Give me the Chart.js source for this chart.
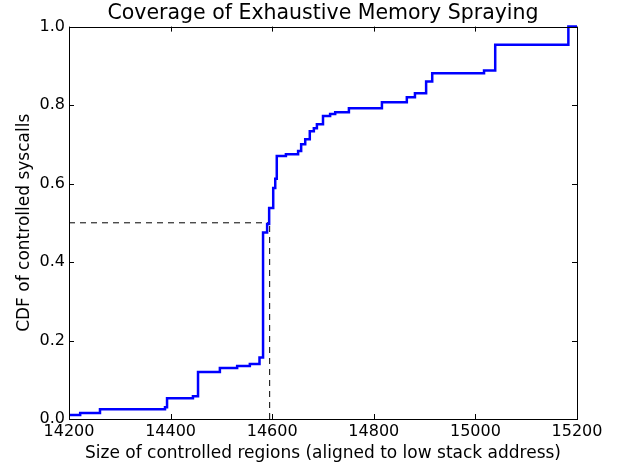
<!DOCTYPE html>
<html>
<head>
<meta charset="utf-8">
<script src="https://cdn.jsdelivr.net/npm/chart.js@4"></script>
<style>
  html, body { margin: 0; padding: 0; background: #fff; }
  #wrap { width: 618px; height: 466px; }
</style>
</head>
<body>
<div id="wrap"><canvas id="cdfChart" width="618" height="466"></canvas></div>
<script>
// Region sizes where the CDF steps up, and the CDF value after each step
const regionSizes = [14200, 14222, 14261, 14389, 14393, 14444, 14454, 14497, 14531, 14556,
  14575, 14582, 14590, 14594, 14602, 14606, 14609, 14627, 14651, 14657,
  14665, 14674, 14682, 14688, 14700, 14714, 14724, 14751, 14816, 14865,
  14881, 14903, 14915, 15017, 15039, 15183, 15200];
const cdfValues = [0.010, 0.015, 0.025, 0.030, 0.053, 0.058, 0.120, 0.130, 0.135, 0.140,
  0.157, 0.475, 0.497, 0.538, 0.589, 0.612, 0.670, 0.675, 0.683, 0.700,
  0.713, 0.733, 0.741, 0.751, 0.772, 0.777, 0.782, 0.792, 0.807, 0.820,
  0.830, 0.860, 0.881, 0.888, 0.954, 1.000, 1.000];

// median marker (dashed guide lines)
const medianSize = 14595;
const medianCdf = 0.5;

const xTicks = [14200, 14400, 14600, 14800, 15000, 15200];
const yTicks = [0.0, 0.2, 0.4, 0.6, 0.8, 1.0];

const FONT = 'DejaVu Sans';

// frame + inward ticks on all four sides, matplotlib style
const frameTicks = {
  id: 'frameTicks',
  afterDraw(chart) {
    const { ctx, chartArea: a, scales } = chart;
    const len = 5;
    ctx.save();
    ctx.strokeStyle = '#000';
    ctx.lineWidth = 1;
    ctx.beginPath();
    xTicks.forEach(v => {
      const px = Math.round(scales.x.getPixelForValue(v)) + 0.5;
      ctx.moveTo(px, a.bottom); ctx.lineTo(px, a.bottom - len);
      ctx.moveTo(px, a.top); ctx.lineTo(px, a.top + len);
    });
    yTicks.forEach(v => {
      const py = Math.round(scales.y.getPixelForValue(v)) + 0.5;
      ctx.moveTo(a.left, py); ctx.lineTo(a.left + len, py);
      ctx.moveTo(a.right, py); ctx.lineTo(a.right - len, py);
    });
    ctx.stroke();
    ctx.strokeRect(Math.round(a.left) + 0.5, Math.round(a.top) + 0.5,
      Math.round(a.right - a.left), Math.round(a.bottom - a.top));
    ctx.restore();
  }
};

new Chart(document.getElementById('cdfChart'), {
  type: 'line',
  data: {
    datasets: [
      {
        data: regionSizes.map((x, i) => ({ x: x, y: cdfValues[i] })),
        borderColor: '#0000ff',
        borderWidth: 2.5,
        pointRadius: 0,
        stepped: 'before',
        fill: false
      },
      {
        data: [{ x: 14200, y: medianCdf }, { x: medianSize, y: medianCdf }],
        borderColor: '#000',
        borderWidth: 1,
        borderDash: [6, 5],
        pointRadius: 0
      },
      {
        data: [{ x: medianSize, y: 0 }, { x: medianSize, y: medianCdf }],
        borderColor: '#000',
        borderWidth: 1,
        borderDash: [6, 5],
        pointRadius: 0
      }
    ]
  },
  options: {
    responsive: false,
    animation: false,
    clip: false,
    layout: { padding: { left: 0, right: 41, top: 0, bottom: 0 } },
    plugins: {
      legend: { display: false },
      tooltip: { enabled: false },
      title: {
        display: true,
        fullSize: false,
        text: 'Coverage of Exhaustive Memory Spraying',
        color: '#000',
        font: { family: FONT, size: 20.5, weight: 'normal' },
        padding: { top: 1, bottom: 1 }
      }
    },
    scales: {
      x: {
        type: 'linear',
        min: 14200,
        max: 15200,
        afterFit: s => { s.height = 47; },
        afterBuildTicks: s => { s.ticks = xTicks.map(v => ({ value: v })); },
        grid: { display: false, drawTicks: false },
        border: { display: false },
        ticks: {
          color: '#000',
          padding: 3,
          maxRotation: 0,
          font: { family: FONT, size: 16 },
          callback: v => String(v)
        },
        title: {
          display: true,
          text: 'Size of controlled regions (aligned to low stack address)',
          color: '#000',
          font: { family: FONT, size: 17 },
          padding: { top: 0, bottom: 2 }
        }
      },
      y: {
        min: 0,
        max: 1,
        afterFit: s => { s.width = 69; },
        afterBuildTicks: s => { s.ticks = yTicks.map(v => ({ value: v })); },
        grid: { display: false, drawTicks: false },
        border: { display: false },
        ticks: {
          color: '#000',
          padding: 4,
          font: { family: FONT, size: 16 },
          callback: v => Number(v).toFixed(1)
        },
        title: {
          display: true,
          text: 'CDF of controlled syscalls',
          color: '#000',
          font: { family: FONT, size: 17 },
          padding: { top: 14, bottom: 0 }
        }
      }
    }
  },
  plugins: [frameTicks]
});
</script>
</body>
</html>
